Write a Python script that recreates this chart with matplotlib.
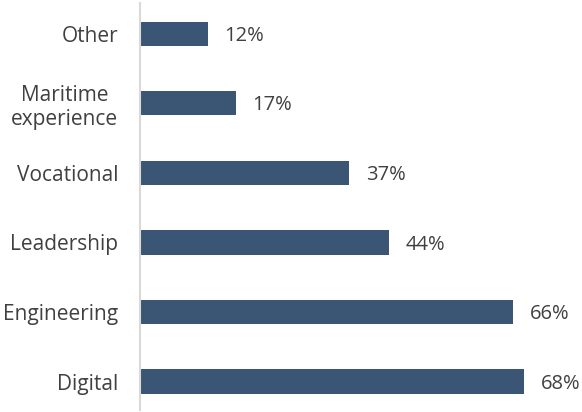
import matplotlib.pyplot as plt

# data, listed bottom to top
categories = ['Digital', 'Engineering', 'Leadership', 'Vocational', 'Maritime\nexperience', 'Other']
shares = [68, 66, 44, 37, 17, 12]

bar_color = '#3b5674'
text_color = '#404040'

plt.rcParams['font.family'] = ['Open Sans', 'DejaVu Sans']

fig = plt.figure(figsize=(5.82, 4.12), dpi=100)
ax = fig.add_axes([140 / 582, 2 / 412, 424 / 582, 407 / 412])

pos = list(range(len(categories)))
ax.barh(pos, shares, height=0.35, color=bar_color)

# value labels
for y, v in zip(pos, shares):
    ax.text(v + 2.9, y - 0.03, f'{v}%', va='center', ha='left', fontsize=14.5, color=text_color)

ax.set_xlim(0, 75)
ax.set_ylim(-0.407, 5.441)
ax.set_yticks(pos)
ax.set_yticklabels(categories, fontsize=15, color=text_color, multialignment='center',
                   linespacing=1.2)
ax.tick_params(axis='y', length=0, pad=15.5)
ax.set_xticks([])

# only the left axis line stays
for side in ['top', 'right', 'bottom']:
    ax.spines[side].set_visible(False)
ax.spines['left'].set_color('#d9d9d9')
ax.spines['left'].set_linewidth(1.5)

fig.savefig('out.png', dpi=100)
